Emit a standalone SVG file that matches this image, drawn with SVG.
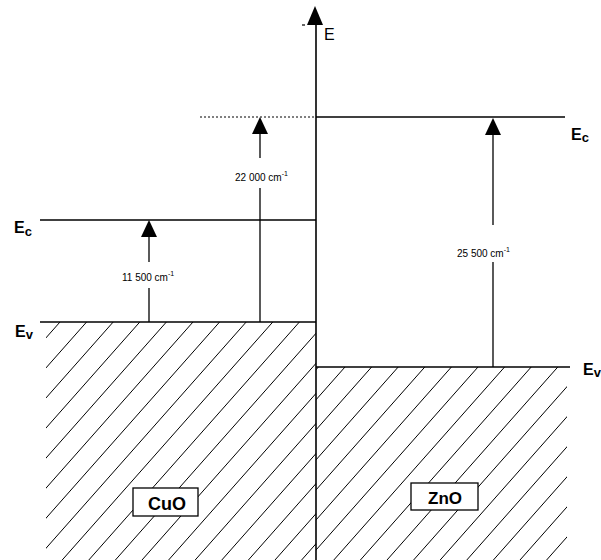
<svg xmlns="http://www.w3.org/2000/svg" width="601" height="560" viewBox="0 0 601 560">
<style>
.ln{stroke:#000;stroke-width:1.6;fill:none}
.ar{stroke:#000;stroke-width:1.3;fill:none}
.hatch{stroke:#000;stroke-width:1;fill:none}
.lbl{font-family:"Liberation Sans",Arial,sans-serif;font-weight:bold;fill:#000}
.sm{font-family:"Liberation Sans",Arial,sans-serif;font-size:10px;fill:#000}
.box{fill:#fff;stroke:#000;stroke-width:1.3}
</style>
<defs>
<clipPath id="clipL"><rect x="46" y="322" width="270" height="238"/></clipPath>
<clipPath id="clipR"><rect x="316" y="367" width="251" height="193"/></clipPath>
</defs>
<rect width="601" height="560" fill="#fff"/>
<g id="hatch-cuo" clip-path="url(#clipL)">
<path class="hatch" d="M60,322L-150.6,560M86.6,322L-124,560M113.2,322L-97.4,560M139.8,322L-70.8,560M166.4,322L-44.2,560M193,322L-17.6,560M219.6,322L9,560M246.2,322L35.6,560M272.8,322L62.2,560M299.4,322L88.8,560M326,322L115.4,560M352.6,322L142,560M379.2,322L168.6,560M405.8,322L195.2,560M432.4,322L221.8,560M459,322L248.4,560M485.6,322L275,560M512.2,322L301.6,560M538.8,322L328.2,560"/>
</g>
<g id="hatch-zno" clip-path="url(#clipR)">
<path class="hatch" d="M318.4,367L147.6,560M345,367L174.2,560M371.6,367L200.8,560M398.2,367L227.4,560M424.8,367L254,560M451.4,367L280.6,560M478,367L307.2,560M504.6,367L333.8,560M531.2,367L360.4,560M557.8,367L387,560M584.4,367L413.6,560M611,367L440.2,560M637.6,367L466.8,560M664.2,367L493.4,560M690.8,367L520,560M717.4,367L546.6,560M744,367L573.2,560"/>
</g>
<g id="levels">
<line class="ln" x1="40" y1="220" x2="316" y2="220"/>
<line class="ln" x1="40" y1="322" x2="316" y2="322"/>
<line class="ln" x1="316" y1="117" x2="565" y2="117"/>
<line class="ln" x1="316" y1="367" x2="570" y2="367"/>
<line x1="200" y1="117" x2="316" y2="117" stroke="#000" stroke-width="1" stroke-dasharray="2,2"/>
</g>
<g id="axis">
<line class="ln" x1="316" y1="20" x2="316" y2="560"/>
<polygon points="315,6 307,25 323,25" fill="#000"/>
<line x1="302" y1="25" x2="305" y2="25" stroke="#000" stroke-width="1.2"/>
<text x="324" y="40" font-family="'Liberation Sans',Arial,sans-serif" font-size="16">E</text>
</g>
<g id="connectors">
<line class="ar" x1="149" y1="236" x2="149" y2="262"/>
<line class="ar" x1="149" y1="288" x2="149" y2="322"/>
<polygon points="149,220 141,237 157,237" fill="#000"/>
<line class="ar" x1="260" y1="133" x2="260" y2="158"/>
<line class="ar" x1="260" y1="188" x2="260" y2="322"/>
<polygon points="260,117 252,134 268,134" fill="#000"/>
<line class="ar" x1="493" y1="134" x2="493" y2="225"/>
<line class="ar" x1="493" y1="262" x2="493" y2="367"/>
<polygon points="493,118 485,135 501,135" fill="#000"/>
</g>
<g id="labels">
<text class="sm" x="122" y="281">11 500 cm<tspan font-size="7" dy="-5">-1</tspan></text>
<text class="sm" x="235" y="181">22 000 cm<tspan font-size="7" dy="-5">-1</tspan></text>
<text class="sm" x="457" y="257">25 500 cm<tspan font-size="7" dy="-5">-1</tspan></text>
<text class="lbl" x="14" y="233" font-size="16">E<tspan font-size="13" dy="3">c</tspan></text>
<text class="lbl" x="15" y="337" font-size="16">E<tspan font-size="13" dy="2">v</tspan></text>
<text class="lbl" x="571" y="140" font-size="16">E<tspan font-size="13" dy="2">c</tspan></text>
<text class="lbl" x="583" y="375" font-size="16">E<tspan font-size="13" dy="2">v</tspan></text>
</g>
<g id="cuo">
<rect class="box" x="133" y="488" width="65" height="28"/>
<text class="lbl" x="167" y="510" font-size="18" text-anchor="middle">CuO</text>
</g>
<g id="zno">
<rect class="box" x="411" y="483" width="67" height="27"/>
<text class="lbl" x="445" y="504" font-size="17" text-anchor="middle">ZnO</text>
</g>
</svg>
